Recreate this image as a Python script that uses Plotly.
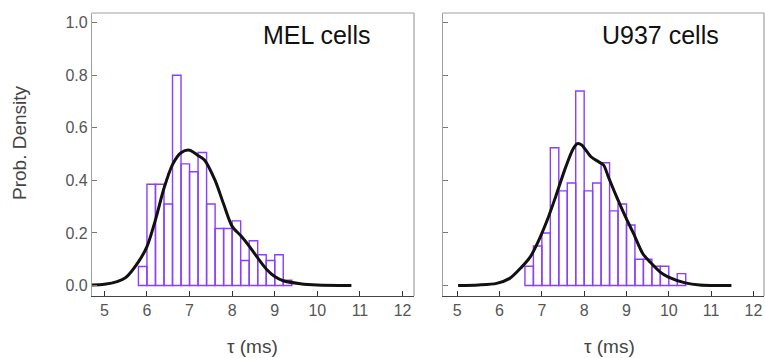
import plotly.graph_objects as go

# ---- data ----
bin_width = 0.2
mel_bin_left = [5.8, 6.0, 6.2, 6.4, 6.6, 6.8, 7.0, 7.2, 7.4, 7.6, 7.8, 8.0, 8.2, 8.4, 8.6, 8.8, 9.0, 9.2]
mel_density = [0.072, 0.385, 0.385, 0.31, 0.80, 0.463, 0.433, 0.506, 0.31, 0.217, 0.217, 0.246, 0.095, 0.17, 0.117, 0.095, 0.117, 0.02]

u937_bin_left = [6.6, 6.8, 7.0, 7.2, 7.4, 7.6, 7.8, 8.0, 8.2, 8.4, 8.6, 8.8, 9.0, 9.2, 9.4, 9.6, 9.8, 10.0, 10.2]
u937_density = [0.073, 0.15, 0.20, 0.524, 0.36, 0.39, 0.74, 0.36, 0.39, 0.467, 0.284, 0.31, 0.23, 0.10, 0.10, 0.073, 0.073, 0.0, 0.045]

mel_fit_x = [4.7, 5.0, 5.3, 5.5, 5.8, 6.0, 6.2, 6.4, 6.6, 6.8, 7.0, 7.2, 7.35, 7.6, 7.8, 8.0, 8.2, 8.4, 8.6, 8.8, 9.0, 9.2, 9.6, 10.0, 10.8]
mel_fit_y = [0.002, 0.005, 0.015, 0.03, 0.09, 0.148, 0.25, 0.37, 0.46, 0.505, 0.515, 0.495, 0.478, 0.40, 0.31, 0.225, 0.19, 0.15, 0.105, 0.063, 0.034, 0.018, 0.007, 0.002, 0.0]

u937_fit_x = [5.02, 5.5, 5.93, 6.24, 6.52, 6.73, 6.91, 7.13, 7.33, 7.54, 7.74, 7.84, 7.94, 8.16, 8.35, 8.46, 8.57, 8.76, 8.98, 9.16, 9.39, 9.59, 9.79, 9.98, 10.39, 10.73, 11.48]
u937_fit_y = [0.0, 0.002, 0.008, 0.027, 0.07, 0.11, 0.166, 0.25, 0.34, 0.44, 0.52, 0.54, 0.535, 0.49, 0.47, 0.458, 0.414, 0.34, 0.26, 0.20, 0.12, 0.084, 0.052, 0.033, 0.01, 0.002, 0.0]

x_ticks = [5, 6, 7, 8, 9, 10, 11, 12]
y_ticks = [0.0, 0.2, 0.4, 0.6, 0.8, 1.0]
y_tick_labels = ["0.0", "0.2", "0.4", "0.6", "0.8", "1.0"]
panel_labels = ["MEL cells", "U937 cells"]

BAR_COLOR = "#8a3ffc"
FONT = "Liberation Sans, Arial, sans-serif"

fig = go.Figure()

def add_panel(bl, dens, fx, fy, xa, ya):
    centers = [b + bin_width / 2 for b in bl]
    fig.add_trace(go.Bar(
        x=centers, y=dens, width=[bin_width] * len(centers),
        marker=dict(color="rgba(255,255,255,0)", line=dict(color=BAR_COLOR, width=1.4)),
        xaxis=xa, yaxis=ya, showlegend=False,
    ))
    fig.add_trace(go.Scatter(
        x=fx, y=fy, mode="lines", line=dict(color="#111111", width=3, shape="spline", smoothing=0.8),
        xaxis=xa, yaxis=ya, showlegend=False,
    ))

add_panel(mel_bin_left, mel_density, mel_fit_x, mel_fit_y, "x", "y")
add_panel(u937_bin_left, u937_density, u937_fit_x, u937_fit_y, "x2", "y2")

common_x = dict(
    tickvals=x_ticks, ticktext=[str(v) for v in x_ticks], ticks="inside", ticklen=5,
    tickcolor="#333333", showline=True, linecolor="#444444", linewidth=1.2,
    showgrid=False, zeroline=False, tickfont=dict(family=FONT, size=16, color="#555555"),
)
common_y = dict(
    tickvals=y_ticks, ticktext=y_tick_labels, ticks="inside", ticklen=5,
    tickcolor="#777777", showline=True, linecolor="#a0a0a0", linewidth=1.2,
    showgrid=False, zeroline=False, range=[-0.04, 1.037],
    tickfont=dict(family=FONT, size=16, color="#555555"),
)

fig.update_layout(
    width=765, height=358,
    margin=dict(l=92, r=1, t=13, b=62),
    paper_bgcolor="white", plot_bgcolor="white",
    barmode="overlay",
    xaxis=dict(domain=[0, 0.4792], range=[4.71, 12.27], anchor="y", **common_x),
    yaxis=dict(domain=[0, 1], anchor="x", showticklabels=True, **common_y),
    xaxis2=dict(domain=[0.5218, 1.0], range=[4.655, 12.25], anchor="y2", **common_x),
    yaxis2=dict(domain=[0, 1], anchor="x2", showticklabels=False, **common_y),
    font=dict(family=FONT),
)

# light gray frame (top / right edges)
for xr, yr in [("x domain", "y domain"), ("x2 domain", "y2 domain")]:
    fig.add_shape(type="line", xref=xr, yref=yr, x0=0, x1=1, y0=1, y1=1,
                  line=dict(color="#a0a0a0", width=1.2))
    fig.add_shape(type="line", xref=xr, yref=yr, x0=1, x1=1, y0=0, y1=1,
                  line=dict(color="#a0a0a0", width=1.2))

# panel labels
fig.add_annotation(text=panel_labels[0], xref="paper", yref="paper",
                   x=(316 - 92) / 672, y=1 - (35 - 13) / 283, showarrow=False,
                   font=dict(family=FONT, size=25, color="#111111"), xanchor="center", yanchor="middle")
fig.add_annotation(text=panel_labels[1], xref="paper", yref="paper",
                   x=(660 - 92) / 672, y=1 - (35 - 13) / 283, showarrow=False,
                   font=dict(family=FONT, size=25, color="#111111"), xanchor="center", yanchor="middle")

# axis titles
fig.add_annotation(text="Prob. Density", xref="paper", yref="paper", textangle=-90,
                   x=(20 - 92) / 672, y=1 - (143 - 13) / 283, showarrow=False,
                   font=dict(family=FONT, size=19, color="#444444"), xanchor="center", yanchor="middle")
for cx in [252, 609]:
    fig.add_annotation(text="τ (ms)", xref="paper", yref="paper",
                       x=(cx - 92) / 672, y=-(346 - 296) / 283, showarrow=False,
                       font=dict(family=FONT, size=19, color="#444444"), xanchor="center", yanchor="middle")

fig.write_html(
    "out.html",
    config={"displayModeBar": False},
    post_script="document.body.style.margin='0';document.body.style.overflow='hidden';",
)
